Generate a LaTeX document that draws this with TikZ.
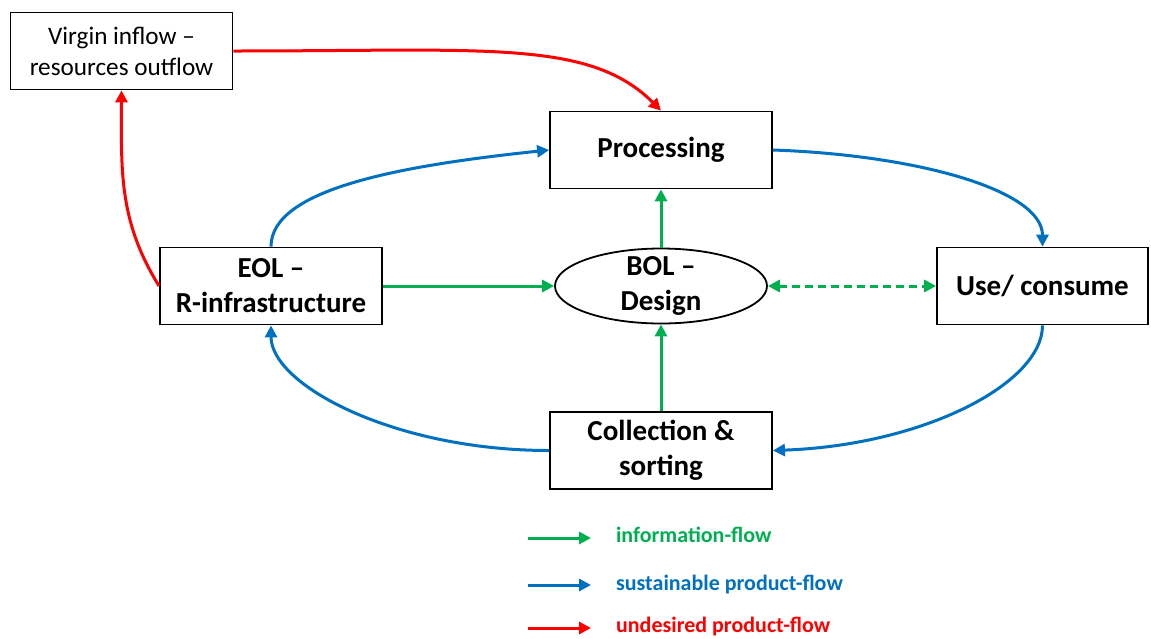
\documentclass[tikz,border=0pt]{standalone}
\usepackage{fontspec}
\setmainfont{Carlito}
\usetikzlibrary{positioning,arrows.meta,shapes.geometric}

\definecolor{infogreen}{RGB}{0,176,80}
\definecolor{prodblue}{RGB}{0,112,192}
\definecolor{wastered}{RGB}{255,0,0}

\begin{document}
\begin{tikzpicture}[x=0.5pt,y=-0.5pt,
    stage/.style={rectangle,draw,line width=0.9pt,align=center,
		minimum width=111pt,minimum height=38.5pt,
		font=\fontsize{14.5}{17.5}\selectfont\bfseries},
    source/.style={stage,font=\fontsize{12.6}{15.5}\selectfont},
    design/.style={ellipse,draw,line width=0.9pt,align=center,
		inner xsep=0pt,inner ysep=-2pt,minimum width=106pt,
		minimum height=37.5pt,font=\fontsize{14.5}{17.5}\selectfont\bfseries},
% Flow styles
    info/.style={draw=infogreen,line width=1.5pt,->},
    prod/.style={draw=prodblue,line width=1.5pt,->},
    waste/.style={draw=wastered,line width=1.5pt,->},
    key/.style={font=\fontsize{11}{13}\selectfont\bfseries,anchor=base west},
    >={Triangle[length=6pt,width=6pt]},
    node distance=1cm,on grid
    ]
   \useasboundingbox (0,0) rectangle (1151,638);

%%% Life cycle stages
   \node [design] (bol) at (661,286) {BOL –\\Design};
   \node [stage, above=68pt of bol] (proc) {Processing};
   \node [stage, below=82.25pt of bol] (coll) {Collection \&\\sorting};
   \node [stage, left=195pt of bol] (eol) {EOL –\\R-infrastructure};
   \node [stage, right=190.75pt of bol, minimum width=105.5pt] (use) {Use/ consume};
   \node [source] (virgin) at (121.5,51) {Virgin inflow –\\resources outflow};

%%% Information flow
   \draw [info] (bol) -- (proc);
   \draw [info] (coll) -- (bol);
   \draw [info] (eol) -- (bol);
   \draw [info, <->, dash pattern=on 4pt off 2.5pt] (bol) -- (use);

%%% Product loop, roughly quarter ellipses
   \draw [prod] (eol.north) to[out=90,in=186,out looseness=0.5,in looseness=1.3] (proc.west);
   \draw [prod] (proc.east) to[out=-2,in=90,out looseness=1.3,in looseness=0.5] (use.north);
   \draw [prod] (use.south) to[out=-90,in=2,out looseness=0.5,in looseness=1.3] (coll.east);
   \draw [prod] (coll.west) to[out=180,in=-90,out looseness=1.3,in looseness=0.5] (eol.south);

%%% Leaks to and from outside
   \draw [waste] (eol.west) to[out=122,in=-90] (virgin.south);
   \draw [waste] (virgin.east) to[out=0,in=135,out looseness=1.5,in looseness=0.6] (proc.north);

%%% Key
   \coordinate (infoa) at (528,538);
   \coordinate (infob) at (591,538);
   \coordinate (proda) at (528,585);
   \coordinate (prodb) at (591,585);
   \coordinate (wastea) at (528,628);
   \coordinate (wasteb) at (591,628);
   \draw [info] (infoa) -- (infob);
   \draw [prod] (proda) -- (prodb);
   \draw [waste] (wastea) -- (wasteb);
   \node [key, text=infogreen] (infokey) at (609,542) {information-flow};
   \node [key, text=prodblue] (prodkey) at (609,590) {sustainable product-flow};
   \node [key, text=wastered] (wastekey) at (609,632) {undesired product-flow};
\end{tikzpicture}
\end{document}
